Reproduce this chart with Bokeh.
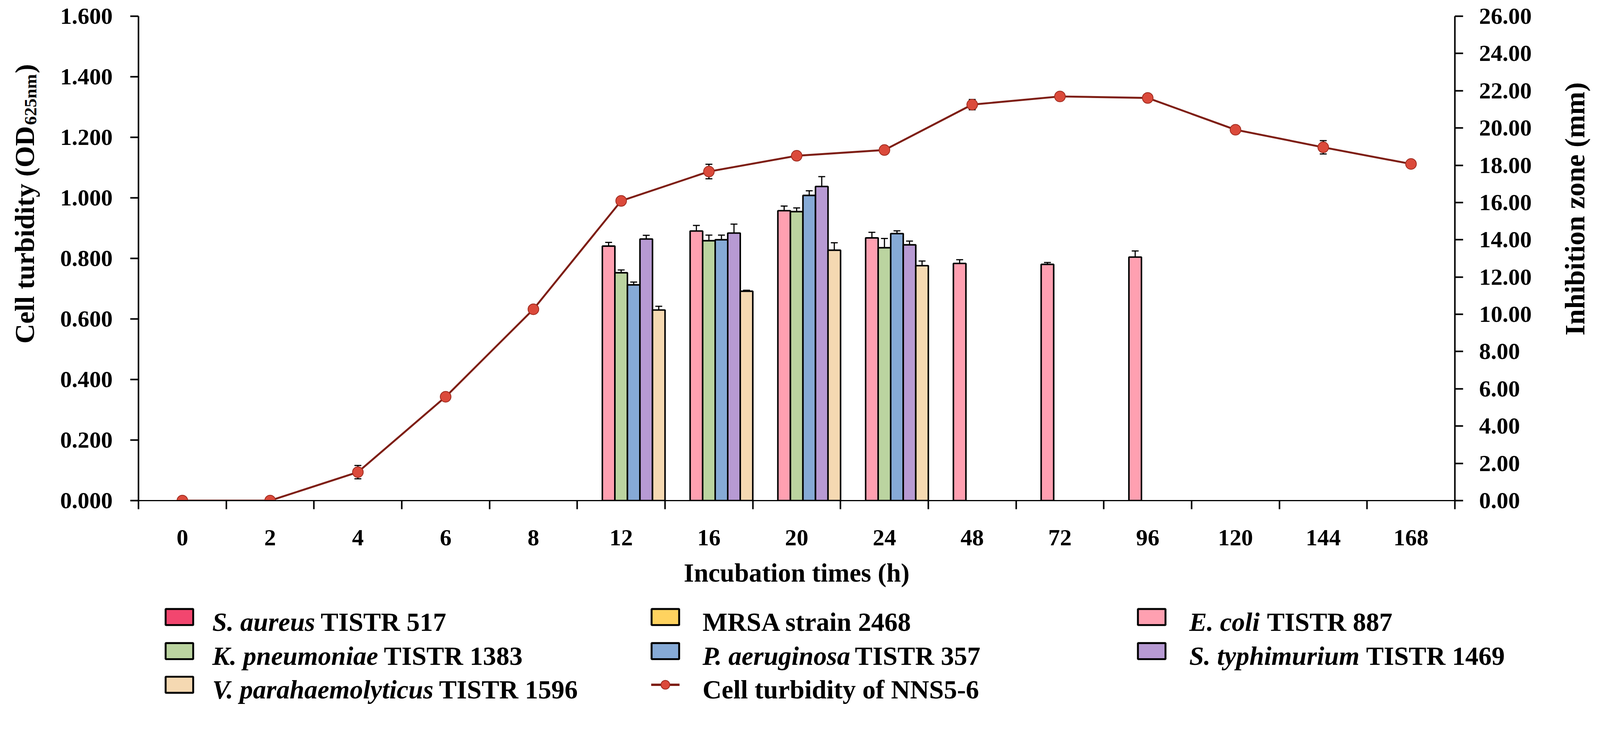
import math

from bokeh.plotting import figure
from bokeh.layouts import row, column
from bokeh.models import (Range1d, LinearAxis, FixedTicker, SingleIntervalTicker,
                          NumeralTickFormatter, ColumnDataSource, Whisker, TeeHead)
from bokeh.core.properties import value
from bokeh.embed import file_html
from bokeh.resources import INLINE

# x categories (incubation time, h)
times = ["0", "2", "4", "6", "8", "12", "16", "20", "24", "48", "72", "96", "120", "144", "168"]

# cell turbidity of NNS5-6 (OD625nm), left axis
turbidity = [0.000, 0.000, 0.094, 0.343, 0.632, 0.990, 1.087, 1.139, 1.158, 1.308, 1.335, 1.330, 1.225, 1.167, 1.112]
turbidity_err = [0.0, 0.0, 0.022, 0.010, 0.005, 0.010, 0.024, 0.008, 0.006, 0.017, 0.009, 0.008, 0.005, 0.022, 0.006]

# inhibition zone (mm), right axis; one value per time, 0 = no zone
s_aureus = [0] * 15
mrsa = [0] * 15
e_coli = [0, 0, 0, 0, 0, 13.66, 14.47, 15.56, 14.10, 12.73, 12.68, 13.07, 0, 0, 0]
e_coli_err = [0, 0, 0, 0, 0, 0.20, 0.30, 0.25, 0.30, 0.20, 0.10, 0.33, 0, 0, 0]
k_pneumoniae = [0, 0, 0, 0, 0, 12.23, 13.95, 15.51, 13.57, 0, 0, 0, 0, 0, 0]
k_pneumoniae_err = [0, 0, 0, 0, 0, 0.15, 0.30, 0.20, 0.50, 0, 0, 0, 0, 0, 0]
p_aeruginosa = [0, 0, 0, 0, 0, 11.58, 14.00, 16.38, 14.33, 0, 0, 0, 0, 0, 0]
p_aeruginosa_err = [0, 0, 0, 0, 0, 0.15, 0.25, 0.25, 0.15, 0, 0, 0, 0, 0, 0]
s_typhimurium = [0, 0, 0, 0, 0, 14.04, 14.36, 16.86, 13.73, 0, 0, 0, 0, 0, 0]
s_typhimurium_err = [0, 0, 0, 0, 0, 0.20, 0.48, 0.53, 0.20, 0, 0, 0, 0, 0, 0]
v_para = [0, 0, 0, 0, 0, 10.23, 11.24, 13.44, 12.61, 0, 0, 0, 0, 0, 0]
v_para_err = [0, 0, 0, 0, 0, 0.20, 0.05, 0.40, 0.25, 0, 0, 0, 0, 0, 0]

series = [
    (s_aureus, [0] * 15, "#F2466F"),
    (mrsa, [0] * 15, "#FFD35F"),
    (e_coli, e_coli_err, "#FFA0B1"),
    (k_pneumoniae, k_pneumoniae_err, "#BBD4A0"),
    (p_aeruginosa, p_aeruginosa_err, "#86AAD6"),
    (s_typhimurium, s_typhimurium_err, "#B79AD3"),
    (v_para, v_para_err, "#F5D9B2"),
]

# legend entries, row by row: (italic species part, plain part)
legend_species = ["S. aureus", "", "E. coli", "K. pneumoniae", "P. aeruginosa",
                  "S. typhimurium", "V. parahaemolyticus", ""]
legend_rest = ["TISTR 517", "MRSA strain 2468", "TISTR 887", "TISTR 1383", "TISTR 357",
               "TISTR 1469", "TISTR 1596", "Cell turbidity of NNS5-6"]

FONT = "Liberation Serif"
LINE_COLOR = "#7E1E14"
MARKER_FILL = "#DB4A3B"
MARKER_LINE = "#9E2A1E"

# the page gets photographed about 2% larger than its CSS size,
# so every pixel measure below is given in picture pixels and scaled down
K = 1 / 1.02

def px(v):
    return int(round(v * K))

def fs(v):
    return f"{v * K:.1f}px"

TOP_H = 1566          # height of the chart row (picture px)
BORDER_TOP = 42       # room for the top tick labels
BORDER_BOTTOM = 259

# ---- main chart ----
p = figure(width=px(3912), height=px(TOP_H), output_backend="svg", toolbar_location=None,
           x_range=Range1d(-0.5, len(times) - 0.5), y_range=Range1d(0, 1.6),
           x_axis_location=None, y_axis_location=None,
           min_border_left=px(241), min_border_right=px(234),
           min_border_top=px(BORDER_TOP), min_border_bottom=px(BORDER_BOTTOM))
p.extra_y_ranges = {"mm": Range1d(0, 26)}
p.outline_line_color = None
p.xgrid.visible = False
p.ygrid.visible = False

def style_axis(ax):
    ax.axis_line_width = 4 * K
    ax.major_tick_line_width = 4 * K
    ax.major_tick_in = 0
    ax.major_tick_out = px(21)
    ax.minor_tick_line_color = None
    ax.major_label_text_font = FONT
    ax.major_label_text_font_style = "bold"
    ax.major_label_text_font_size = fs(61)
    ax.major_label_text_color = "black"

xaxis = LinearAxis(ticker=FixedTicker(ticks=list(range(len(times))),
                                      minor_ticks=[i - 0.5 for i in range(len(times) + 1)]),
                   major_label_overrides={i: t for i, t in enumerate(times)},
                   axis_label="Incubation times (h)")
style_axis(xaxis)
xaxis.axis_line_width = 3 * K
xaxis.major_tick_line_color = None
xaxis.major_tick_out = 0
xaxis.minor_tick_line_color = "black"
xaxis.minor_tick_line_width = 4 * K
xaxis.minor_tick_in = 0
xaxis.minor_tick_out = px(22)
xaxis.major_label_standoff = px(54)
xaxis.axis_label_standoff = px(32)
xaxis.axis_label_text_font = FONT
xaxis.axis_label_text_font_style = "bold"
xaxis.axis_label_text_font_size = fs(68)
xaxis.axis_label_text_color = "black"
p.add_layout(xaxis, "below")

yaxis = LinearAxis(ticker=SingleIntervalTicker(interval=0.2),
                   formatter=NumeralTickFormatter(format="0.000"))
style_axis(yaxis)
yaxis.major_label_standoff = px(46)
p.add_layout(yaxis, "left")

raxis = LinearAxis(y_range_name="mm", ticker=SingleIntervalTicker(interval=2),
                   formatter=NumeralTickFormatter(format="0.00"))
style_axis(raxis)
raxis.major_label_standoff = px(42)
p.add_layout(raxis, "right")

def tee():
    return TeeHead(size=18 * K, line_width=3 * K, line_color="black")

# clustered bars: 7 series share each category slot
n = len(series)
bar_w = 1.0 / n
for k, (vals, errs, color) in enumerate(series):
    xs = [i - 0.5 + (k + 0.5) * bar_w for i in range(len(times)) if vals[i] > 0]
    ys = [v for v in vals if v > 0]
    es = [e for v, e in zip(vals, errs) if v > 0]
    src = ColumnDataSource(dict(x=xs, top=ys,
                                upper=[y + e for y, e in zip(ys, es)],
                                lower=[y - e for y, e in zip(ys, es)]))
    p.vbar(x="x", top="top", width=bar_w, bottom=0, source=src, y_range_name="mm",
           fill_color=color, line_color="black", line_width=4 * K)
    p.add_layout(Whisker(base="x", upper="upper", lower="lower", source=src, y_range_name="mm",
                         line_width=3 * K, line_color="black",
                         upper_head=tee(), lower_head=tee()))

# turbidity line
lsrc = ColumnDataSource(dict(x=list(range(len(times))), y=turbidity,
                             upper=[y + e for y, e in zip(turbidity, turbidity_err)],
                             lower=[y - e for y, e in zip(turbidity, turbidity_err)]))
p.line("x", "y", source=lsrc, line_color=LINE_COLOR, line_width=5 * K)
p.add_layout(Whisker(base="x", upper="upper", lower="lower", source=lsrc,
                     line_width=3 * K, line_color="black",
                     upper_head=tee(), lower_head=tee()))
p.scatter("x", "y", source=lsrc, marker="circle", size=28 * K,
          fill_color=MARKER_FILL, line_color=MARKER_LINE, line_width=2 * K)

# ---- strips for the axis titles and the legend (1 range unit = 1 picture px,
#      y counted up from the strip bottom) ----
def strip(w, h, y0=0, y1=None):
    f = figure(width=px(w), height=px(h), output_backend="svg", toolbar_location=None,
               x_range=Range1d(0, w), y_range=Range1d(y0, h if y1 is None else y1),
               x_axis_location=None, y_axis_location=None, min_border=0)
    f.outline_line_color = None
    f.xgrid.visible = False
    f.ygrid.visible = False
    return f

title_style = dict(angle=math.pi / 2, text_font=value(FONT), text_font_style="bold",
                   text_color="black", text_baseline="alphabetic")

# strips in the chart row get their frame aligned with the chart's frame
side_y0, side_y1 = BORDER_BOTTOM, TOP_H - BORDER_TOP

left = strip(120, TOP_H, side_y0, side_y1)
left.text(x=[64], y=[1237], text=["Cell turbidity (OD"], text_align="right",
          text_font_size=fs(72), **title_style)
left.text(x=[79], y=[1240], text=["625nm"], text_align="left",
          text_font_size=fs(46), **title_style)
left.text(x=[64], y=[1375], text=[")"], text_align="left",
          text_font_size=fs(72), **title_style)

right = strip(138, TOP_H, side_y0, side_y1)
right.text(x=[80], y=[690], text=["Inhibition zone (mm)"], text_align="left",
           text_font_size=fs(73), **title_style)

leg = strip(4170, 294)
col_swatch = [468, 1737, 3007]
col_text = [554, 1834, 3105]
row_y = [249, 160, 72]
rest_dx = [283, 0, 203, 448, 398, 462, 592, 0]
colors = [s[2] for s in series]

sw = ColumnDataSource(dict(x=[col_swatch[i % 3] for i in range(n)],
                           y=[row_y[i // 3] for i in range(n)], color=colors))
leg.rect(x="x", y="y", width=72, height=42, source=sw, fill_color="color",
         line_color="black", line_width=5 * K)
li = len(legend_rest) - 1
lx, ly = col_swatch[li % 3], row_y[li // 3]
leg.line(x=[lx - 37, lx + 37], y=[ly, ly], line_color=LINE_COLOR, line_width=6 * K)
leg.scatter(x=[lx], y=[ly], marker="circle", size=23 * K, fill_color=MARKER_FILL,
            line_color=MARKER_LINE, line_width=2 * K)

idx = [i for i in range(len(legend_species)) if legend_species[i]]
it = ColumnDataSource(dict(x=[col_text[i % 3] for i in idx],
                           y=[row_y[i // 3] - 13 for i in idx],
                           t=[legend_species[i] for i in idx]))
leg.text(x="x", y="y", text="t", source=it, text_align="left", text_baseline="alphabetic",
         text_font=value(FONT), text_font_style="bold italic", text_font_size=fs(69),
         text_color="black")
rt = ColumnDataSource(dict(x=[col_text[i % 3] + rest_dx[i] for i in range(len(legend_rest))],
                           y=[row_y[i // 3] - 13 for i in range(len(legend_rest))],
                           t=legend_rest))
leg.text(x="x", y="y", text="t", source=rt, text_align="left", text_baseline="alphabetic",
         text_font=value(FONT), text_font_style="bold", text_font_size=fs(69),
         text_color="black")

layout = column(row(left, p, right), leg)
open("out.html", "w").write(file_html(layout, INLINE))
